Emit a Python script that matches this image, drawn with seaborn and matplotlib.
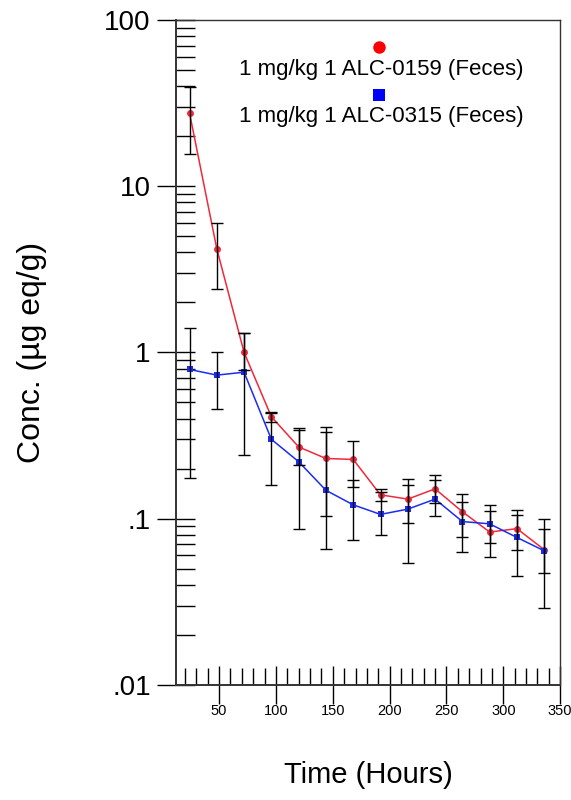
import numpy as np
import pandas as pd
import matplotlib
matplotlib.use("Agg")
import matplotlib.pyplot as plt
from matplotlib.ticker import FixedLocator, FixedFormatter, MultipleLocator, LogLocator, NullFormatter
import seaborn as sns

# ── Data ─────────────────────────────────────────────────────────────────────
hours = [24, 48, 72, 96, 120, 144, 168, 192, 216, 240, 264, 288, 312, 336]

alc0159 = [27.6, 4.2, 1.0, 0.41, 0.27, 0.23, 0.227, 0.139, 0.131, 0.151, 0.110, 0.083, 0.087, 0.065]
alc0159_lo = [15.6, 2.42, 0.78, 0.38, 0.21, 0.104, 0.155, 0.127, 0.094, 0.124, 0.078, 0.071, 0.065, 0.047]
alc0159_hi = [39.6, 6.0, 1.31, 0.44, 0.35, 0.355, 0.295, 0.151, 0.172, 0.183, 0.141, 0.111, 0.105, 0.087]

alc0315 = [0.79, 0.73, 0.76, 0.30, 0.22, 0.148, 0.121, 0.106, 0.114, 0.131, 0.096, 0.093, 0.077, 0.064]
alc0315_lo = [0.175, 0.455, 0.24, 0.16, 0.086, 0.066, 0.074, 0.080, 0.054, 0.104, 0.063, 0.059, 0.045, 0.029]
alc0315_hi = [1.40, 1.0, 1.3, 0.43, 0.34, 0.33, 0.17, 0.145, 0.16, 0.17, 0.126, 0.121, 0.113, 0.099]

labels = ["1 mg/kg 1 ALC-0159 (Feces)", "1 mg/kg 1 ALC-0315 (Feces)"]
colors = ["#f0283c", "#1a2cf2"]
ytick_vals = [0.01, 0.1, 1, 10, 100]
ytick_text = [".01", ".1", "1", "10", "100"]
xtick_vals = [50, 100, 150, 200, 250, 300, 350]

df = pd.concat([
    pd.DataFrame({"Time": hours, "Conc": alc0159, "lo": alc0159_lo, "hi": alc0159_hi, "series": labels[0]}),
    pd.DataFrame({"Time": hours, "Conc": alc0315, "lo": alc0315_lo, "hi": alc0315_hi, "series": labels[1]}),
])

# ── Plot ─────────────────────────────────────────────────────────────────────
sns.set_style("white")
plt.rcParams["font.family"] = ["Liberation Sans", "DejaVu Sans"]
plt.rcParams["text.color"] = "black"
plt.rcParams["axes.labelcolor"] = "black"
plt.rcParams["xtick.color"] = "black"
plt.rcParams["ytick.color"] = "black"

fig = plt.figure(figsize=(5.71, 8.0), dpi=100)
ax = fig.add_axes([0.308, 0.144, 0.673, 0.831])

sns.lineplot(
    data=df, x="Time", y="Conc", hue="series", style="series",
    palette=dict(zip(labels, colors)), markers=["o", "s"], dashes=False,
    markersize=5, markeredgewidth=0, linewidth=1.1, legend=False, ax=ax, zorder=2,
)

for name in labels:
    sub = df[df["series"] == name]
    ax.errorbar(
        sub["Time"], sub["Conc"],
        yerr=[sub["Conc"] - sub["lo"], sub["hi"] - sub["Conc"]],
        fmt="none", ecolor="black", elinewidth=1.0, capsize=4, capthick=1.0, zorder=3,
    )

ax.set_yscale("log")
ax.set_ylim(0.01, 100)
ax.set_xlim(12, 350)

ax.yaxis.set_major_locator(FixedLocator(ytick_vals))
ax.yaxis.set_major_formatter(FixedFormatter(ytick_text))
ax.yaxis.set_minor_locator(LogLocator(base=10, subs=np.arange(2, 10)))
ax.yaxis.set_minor_formatter(NullFormatter())
ax.xaxis.set_major_locator(FixedLocator(xtick_vals))
ax.xaxis.set_minor_locator(MultipleLocator(10))

ax.tick_params(which="both", left=True, bottom=True, right=False, top=False)
ax.tick_params(axis="y", which="major", direction="inout", length=28, width=1.0,
               labelsize=20, pad=4, colors="black")
ax.tick_params(axis="y", which="minor", direction="in", length=14, width=1.0, colors="black")
ax.tick_params(axis="x", which="major", direction="inout", length=28, width=1.0,
               labelsize=10.5, pad=0, colors="black")
ax.tick_params(axis="x", which="minor", direction="in", length=12, width=1.0, colors="black")

for side in ["left", "bottom", "right", "top"]:
    ax.spines[side].set_visible(True)
    ax.spines[side].set_color("#333333")
    ax.spines[side].set_linewidth(1.0)
ax.spines["left"].set_linewidth(1.4)
ax.spines["bottom"].set_linewidth(1.4)

ax.set_xlabel("Time (Hours)", fontsize=21)
ax.set_ylabel("Conc. (µg eq/g)", fontsize=23)
ax.xaxis.set_label_coords(0.5, -0.114)
ax.yaxis.set_label_coords(-0.335, 0.5)

# legend: marker centred above each label
ax.plot([0.529], [0.960], marker="o", color="#ff0000", markersize=9, markeredgewidth=0,
        transform=ax.transAxes, clip_on=False, linestyle="none")
ax.text(0.535, 0.925, labels[0], transform=ax.transAxes, ha="center", va="center", fontsize=16)
ax.plot([0.529], [0.887], marker="s", color="#0000ff", markersize=9, markeredgewidth=0,
        transform=ax.transAxes, clip_on=False, linestyle="none")
ax.text(0.535, 0.855, labels[1], transform=ax.transAxes, ha="center", va="center", fontsize=16)

plt.savefig("out.png", dpi=100)
plt.close()
